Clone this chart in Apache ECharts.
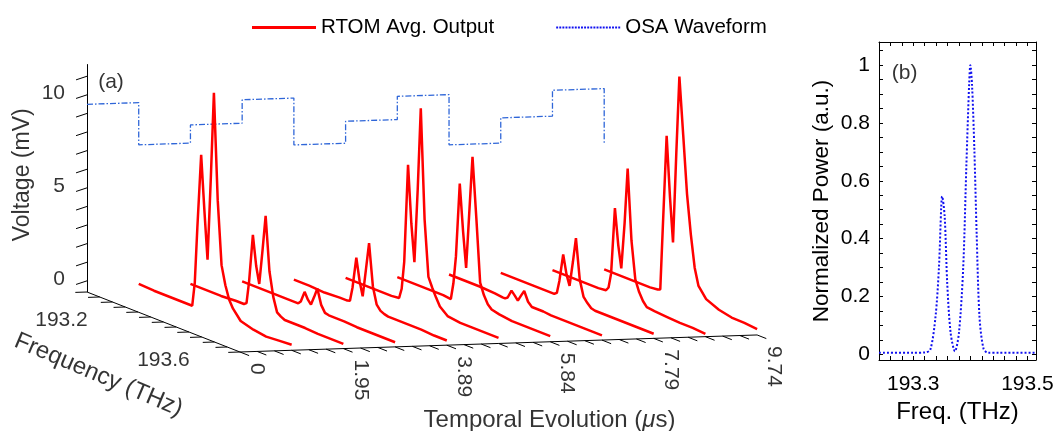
<!DOCTYPE html>
<html>
<head>
<meta charset="utf-8">
<title>RTOM waterfall</title>
<script src="https://cdn.jsdelivr.net/npm/echarts@6/dist/echarts.min.js"></script>
<style>
  html, body { margin: 0; padding: 0; background: #fff; }
  #chart { width: 1057px; height: 431px; }
</style>
</head>
<body>
<div id="chart"></div>
<script>
// ---------- data ----------
// (a) one spectrum per sampling instant (μs)
const traceTimes = [0.974, 1.948, 2.922, 3.896, 4.87, 5.844, 6.818, 7.792, 8.766, 9.74];
// frequency points shared by every trace (THz)
const traceFreqs = [193.10, 193.16, 193.22, 193.28, 193.31, 193.32, 193.33, 193.345, 193.358, 193.37, 193.383,
                    193.395, 193.41, 193.425, 193.44, 193.455, 193.47, 193.50, 193.55, 193.60, 193.65, 193.70];
// voltage (mV) of each trace at those frequencies
const trace1  = [-0.25, -0.3, -0.3, -0.3, -0.3, 1.0, 4.0, 8.0, 5.0, 2.5, 7.0, 11.6, 5.9, 2.5, 1.5, 0.8, 0.4, -0.1, -0.3, -0.4, -0.35, -0.3];
const trace2  = [-0.35, -0.35, -0.35, -0.3, -0.3, -0.2, 1.0, 3.6, 2.0, 1.1, 3.0, 4.9, 2.0, 0.7, -0.05, -0.2, -0.3, -0.3, -0.3, -0.35, -0.35, -0.35];
const trace3  = [-0.3, -0.3, -0.3, -0.3, -0.3, -0.3, -0.15, 0.45, 0.1, -0.1, 0.4, 0.9, 0.1, -0.25, -0.3, -0.3, -0.3, -0.3, -0.35, -0.35, -0.35, -0.35];
const trace4  = [-0.3, -0.3, -0.35, -0.3, -0.3, -0.25, 0.5, 2.2, 1.0, 0.25, 1.8, 3.25, 1.0, 0.1, -0.15, -0.25, -0.3, -0.3, -0.3, -0.3, -0.35, -0.35];
const trace5  = [-0.3, -0.3, -0.3, -0.3, -0.25, 0.3, 1.8, 7.1, 4.0, 2.0, 6.0, 10.4, 4.5, 1.5, 1.0, 0.55, 0.15, -0.2, -0.3, -0.3, -0.3, -0.3];
const trace6  = [-0.35, -0.35, -0.35, -0.35, -0.4, 0.5, 2.0, 6.0, 3.5, 1.6, 4.8, 7.7, 4.5, 1.1, 0.5, 0.1, -0.1, -0.2, -0.3, -0.3, -0.3, -0.3];
const trace7  = [-0.3, -0.3, -0.3, -0.35, -0.4, -0.4, -0.3, 0.15, -0.05, -0.25, 0.1, 0.4, -0.1, -0.3, -0.3, -0.3, -0.3, -0.35, -0.35, -0.35, -0.35, -0.35];
const trace8  = [-0.3, -0.3, -0.3, -0.3, -0.3, -0.2, 0.5, 2.0, 1.0, 0.45, 1.8, 3.15, 1.0, 0.15, -0.1, -0.3, -0.35, -0.35, -0.35, -0.35, -0.35, -0.35];
const trace9  = [-0.25, -0.25, -0.25, -0.25, -0.2, 0.0, 0.8, 4.4, 2.5, 1.3, 3.8, 6.8, 3.0, 1.0, 0.4, 0.0, -0.25, -0.3, -0.35, -0.4, -0.4, -0.45];
const trace10 = [-0.3, -0.3, -0.3, -0.3, -0.25, -0.2, 3.2, 8.2, 5.0, 2.6, 7.5, 11.65, 8.6, 5.5, 3.4, 1.7, 0.8, 0.25, -0.05, -0.2, -0.22, -0.28];
const traceVolts = [trace1, trace2, trace3, trace4, trace5, trace6, trace7, trace8, trace9, trace10];

// staircase drawn on the back wall (mV), one level per 0.974 μs
const stepLevels = [9.49, 7.22, 8.20, 9.46, 6.94, 8.12, 9.37, 6.67, 8.03, 9.42];
const stepWidth = 0.974;
const stepEnd = 6.4;

// 3-D axes of (a)
const timeTickValues = [0, 1.948, 3.896, 5.844, 7.792, 9.74];
const timeTickLabels = ['0', '1.95', '3.89', '5.84', '7.79', '9.74'];
const freqTickValues = [193.2, 193.6];
const voltTickValues = [0, 5, 10];

// (b) OSA spectrum
const osaFreq  = [193.24, 193.30, 193.321, 193.330, 193.339, 193.345, 193.349, 193.3505, 193.355, 193.3595, 193.3655,
                  193.373, 193.380, 193.3875, 193.393, 193.398, 193.400, 193.403, 193.407, 193.411, 193.416, 193.423,
                  193.431, 193.45, 193.515];
const osaPower = [0.005, 0.005, 0.006, 0.016, 0.13, 0.30, 0.51, 0.546, 0.477, 0.246, 0.073,
                  0.01, 0.073, 0.30, 0.65, 0.94, 1.0, 0.93, 0.71, 0.42, 0.13, 0.02,
                  0.005, 0.005, 0.005];
const osaXLabels = [193.3, 193.5];
const osaYLabels = [0, 0.2, 0.4, 0.6, 0.8, 1];

// ---------- oblique projection for panel (a) ----------
const F0 = 193.1, F1 = 193.7, T1 = 9.74, V0 = -0.6, V1 = 11.65;
const PX_X = 53.1;   // px per μs
const PX_Y = 18.6;   // px per mV
const KX = 4.80;     // screen μs per THz of depth
const KY = 5.376;    // screen mV drop per THz of depth
const KT = 0.094;    // screen mV rise per μs
function proj(t, f, v) {
    return [t + KX * (f - F0), v + KT * t - KY * (f - F0)];
}
// small pixel nudge, used only for text anchors
function nudge(p, dx, dy) {
    return [p[0] + dx / PX_X, p[1] - dy / PX_Y];
}

const FONT = "'Liberation Sans', Arial, sans-serif";

// axis box and ticks
const boxLines = [
    {coords: [proj(0, F0, V0), proj(0, F0, V1)]},
    {coords: [proj(0, F0, V0), proj(0, F1, V0)]},
    {coords: [proj(0, F1, V0), proj(T1, F1, V0)]}
];
const tickLines = [];
for (let i = 0; i <= 30; i++) {
    const t = i * T1 / 30;
    tickLines.push({coords: [proj(t, F1, V0), proj(t, F1 + 0.036, V0)]});
}
for (let i = 0; i <= 12; i++) {
    const f = F0 + i * 0.05;
    tickLines.push({coords: [proj(0, f, V0), proj(-0.22, f, V0)]});
}
for (let v = 0; v <= 11; v++) {
    tickLines.push({coords: [proj(0, F0, v), proj(-0.35, F0 + 0.03, v)]});
}

const stepPts = [];
stepLevels.forEach(function (lv, i) {
    stepPts.push(proj(i * stepWidth, F0, lv));
    stepPts.push(proj((i + 1) * stepWidth, F0, lv));
});
stepPts.push(proj(T1, F0, stepEnd));

const redSeries = traceVolts.map(function (vs, k) {
    return {
        name: 'RTOM Avg. Output',
        type: 'line',
        xAxisIndex: 0, yAxisIndex: 0,
        symbol: 'none',
        lineStyle: {color: '#ff0000', width: 2.5},
        itemStyle: {color: '#ff0000'},
        data: traceFreqs.map(function (f, i) { return proj(traceTimes[k], f, vs[i]); }),
        z: 3
    };
});

function textSeries(items, label, gridIdx) {
    return {
        type: 'scatter',
        xAxisIndex: gridIdx, yAxisIndex: gridIdx,
        symbolSize: 1,
        silent: true,
        itemStyle: {color: 'transparent'},
        label: Object.assign({show: true, position: 'inside', formatter: '{b}', color: '#000',
                              fontFamily: FONT, fontSize: 21}, label),
        data: items,
        z: 5
    };
}

const xTicksB = [];
for (let i = 0; i <= 13; i++) xTicksB.push(+(193.24 + i * 0.02).toFixed(2));
const yTicksB = [];
for (let i = 0; i <= 21; i++) yTicksB.push(+(i * 0.05).toFixed(2));

// legend glyphs: a solid bar and a row of dots
let dotPath = 'path://';
for (let i = 0; i < 21; i++) dotPath += 'M' + (i * 3.2) + ',0h2v2.2h-2Z';

const option = {
    animation: false,
    backgroundColor: '#fff',
    textStyle: {fontFamily: FONT},
    legend: {
        data: [
            {name: 'RTOM Avg. Output', icon: 'path://M0,0H64V2.8H0Z'},
            {name: 'OSA Waveform', icon: dotPath}
        ],
        left: 247, top: 12,
        itemWidth: 64, itemHeight: 14, itemGap: 62,
        textStyle: {fontSize: 20.5, color: '#000', fontFamily: FONT}
    },
    grid: [
        {left: 0, top: 0, width: 860, height: 431},
        {left: 879, right: 21, top: 42, bottom: 71}
    ],
    xAxis: [
        {gridIndex: 0, type: 'value', show: false,
         min: -87 / PX_X, max: (860 - 87) / PX_X},
        {gridIndex: 1, type: 'value', min: 193.24, max: 193.515, position: 'bottom',
         axisLine: {onZero: false, lineStyle: {color: '#000', width: 1}},
         axisTick: {inside: true, length: 4, customValues: xTicksB, lineStyle: {color: '#000'}},
         axisLabel: {customValues: osaXLabels, formatter: function (v) { return v.toFixed(1); },
                     fontSize: 21, color: '#000', margin: 14},
         splitLine: {show: false},
         name: 'Freq. (THz)', nameLocation: 'middle', nameGap: 38,
         nameTextStyle: {fontSize: 24, color: '#000'}},
        {gridIndex: 1, type: 'value', min: 193.24, max: 193.515, position: 'top',
         axisLine: {onZero: false, lineStyle: {color: '#000', width: 1}},
         axisTick: {inside: true, length: 4, customValues: xTicksB, lineStyle: {color: '#000'}},
         axisLabel: {show: false}, splitLine: {show: false}}
    ],
    yAxis: [
        {gridIndex: 0, type: 'value', show: false,
         min: V0 - (431 - 292) / PX_Y, max: V0 + 292 / PX_Y},
        {gridIndex: 1, type: 'value', min: -0.02, max: 1.08, position: 'left',
         axisLine: {show: true, onZero: false, lineStyle: {color: '#000', width: 1}},
         axisTick: {show: true, inside: true, length: 4, customValues: yTicksB, lineStyle: {color: '#000'}},
         axisLabel: {customValues: osaYLabels, formatter: function (v) { return String(+v.toFixed(1)); },
                     fontSize: 21, color: '#000', margin: 9},
         splitLine: {show: false},
         name: 'Normalized Power (a.u.)', nameLocation: 'middle', nameGap: 46,
         nameTextStyle: {fontSize: 22.5, color: '#000'}},
        {gridIndex: 1, type: 'value', min: -0.02, max: 1.08, position: 'right',
         axisLine: {show: true, onZero: false, lineStyle: {color: '#000', width: 1}},
         axisTick: {show: true, inside: true, length: 4, customValues: yTicksB, lineStyle: {color: '#000'}},
         axisLabel: {show: false}, splitLine: {show: false}}
    ],
    series: [
        {
            name: 'Drive', type: 'line', xAxisIndex: 0, yAxisIndex: 0,
            symbol: 'none', data: stepPts,
            lineStyle: {color: '#2f66d8', width: 1.3, type: [6, 2, 1.5, 2]}, z: 2
        },
        {
            type: 'lines', coordinateSystem: 'cartesian2d', xAxisIndex: 0, yAxisIndex: 0,
            silent: true, data: boxLines.concat(tickLines),
            lineStyle: {color: '#000', width: 1, opacity: 1, curveness: 0}, z: 1
        }
    ].concat(redSeries).concat([
        textSeries(timeTickValues.map(function (t, i) {
            return {name: timeTickLabels[i], value: nudge(proj(t, F1, V0), 17, 11)};
        }), {rotate: -90, align: 'left', verticalAlign: 'middle'}, 0),
        textSeries(voltTickValues.map(function (v) {
            return {name: String(v), value: nudge(proj(0, F0, v), -22, -2)};
        }), {align: 'right', verticalAlign: 'middle'}, 0),
        textSeries(freqTickValues.map(function (f) {
            return {name: f.toFixed(1), value: nudge(proj(0, f, V0), -51, 18)};
        }), {align: 'center', verticalAlign: 'middle'}, 0),
        textSeries([{name: 'Temporal Evolution ({i|μ}s)', value: nudge(proj(4.87, F1, V0), 51, 77)}],
            {fontSize: 24, align: 'center', verticalAlign: 'middle',
             rich: {i: {fontStyle: 'italic', fontSize: 24, fontFamily: FONT}}}, 0),
        textSeries([{name: 'Frequency (THz)', value: nudge(proj(0, 193.4, V0), -65, 53)}],
            {fontSize: 24, rotate: -23, align: 'center', verticalAlign: 'middle'}, 0),
        textSeries([{name: 'Voltage (mV)', value: nudge(proj(0, F0, 5), -64, -13)}],
            {fontSize: 23, rotate: 90, align: 'center', verticalAlign: 'middle'}, 0),
        textSeries([{name: '(a)', value: nudge(proj(0, F0, V1), 24, 18)}],
            {fontSize: 21, align: 'center', verticalAlign: 'middle'}, 0),
        {
            name: 'OSA Waveform', type: 'line', xAxisIndex: 1, yAxisIndex: 1,
            symbol: 'none', smooth: 0.3,
            data: osaFreq.map(function (f, i) { return [f, osaPower[i]]; }),
            lineStyle: {color: '#1010f0', width: 2, type: 'dotted'},
            itemStyle: {color: '#1010f0'}, z: 4
        },
        textSeries([{name: '(b)', value: [193.285, 0.973]}],
            {fontSize: 21, align: 'center', verticalAlign: 'middle'}, 1)
    ])
};

const chart = echarts.init(document.getElementById('chart'));
chart.setOption(option);
window.addEventListener('resize', function () { chart.resize(); });
</script>
</body>
</html>
